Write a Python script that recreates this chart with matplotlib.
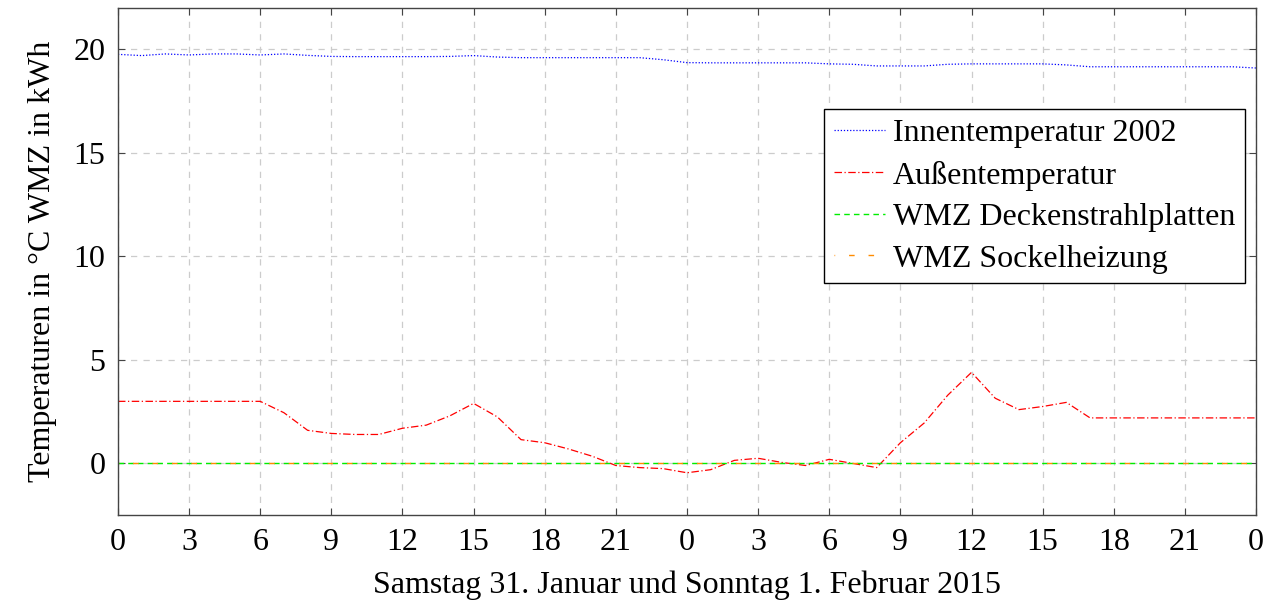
import matplotlib.pyplot as plt
import numpy as np

plt.rcParams['font.family'] = ['Liberation Serif', 'DejaVu Serif']

hours = np.arange(0, 49)

# Innentemperatur 2002 (hourly)
innen = [19.76, 19.70, 19.78, 19.73, 19.78, 19.78, 19.73, 19.78, 19.71, 19.66,
         19.65, 19.65, 19.65, 19.65, 19.66, 19.70, 19.63, 19.60, 19.60, 19.60,
         19.60, 19.60, 19.60, 19.50, 19.36, 19.35, 19.35, 19.35, 19.35, 19.35,
         19.30, 19.28, 19.20, 19.20, 19.20, 19.28, 19.30, 19.30, 19.30, 19.30,
         19.25, 19.16, 19.16, 19.16, 19.16, 19.16, 19.16, 19.16, 19.10]

# Aussentemperatur (hourly)
aussen = [3.0, 3.0, 3.0, 3.0, 3.0, 3.0, 3.0, 2.45, 1.6, 1.45,
          1.4, 1.4, 1.7, 1.85, 2.3, 2.9, 2.25, 1.15, 1.0, 0.7,
          0.35, -0.1, -0.2, -0.25, -0.45, -0.3, 0.15, 0.25, 0.05, -0.1,
          0.2, 0.0, -0.2, 1.0, 1.95, 3.3, 4.4, 3.15, 2.6, 2.75,
          2.95, 2.2, 2.2, 2.2, 2.2, 2.2, 2.2, 2.2, 2.2]

wmz_decke = [0.0] * 49
wmz_sockel = [0.0] * 49

xtick_vals = np.arange(0, 49, 3)
xtick_labels = ['0', '3', '6', '9', '12', '15', '18', '21',
                '0', '3', '6', '9', '12', '15', '18', '21', '0']

FS = 23

fig = plt.figure(figsize=(12.74, 6.04), dpi=100)
ax = fig.add_axes([0.0926, 0.147, 0.8933, 0.8398])

ax.plot(hours, innen, color='blue', linestyle=(0, (1, 1.5)), lw=0.9,
        label='Innentemperatur 2002')
ax.plot(hours, aussen, color='red', linestyle=(0, (6, 2, 1, 2)), lw=0.9,
        label='Außentemperatur')
ax.plot(hours, wmz_decke, color='#00ee00', linestyle=(0, (4, 3)), lw=1.0,
        label='WMZ Deckenstrahlplatten')
ax.plot(hours, wmz_sockel, color='#ff8c00', linestyle=(3.5, (4, 10)), lw=1.0,
        label='WMZ Sockelheizung')

ax.set_xlim(0, 48)
ax.set_ylim(-2.5, 22)
ax.set_xticks(xtick_vals)
ax.set_xticklabels(xtick_labels)
ax.set_yticks([0, 5, 10, 15, 20])

ax.grid(True, color='#cccccc', linestyle=(0, (5, 5)), lw=0.9)
ax.tick_params(direction='in', top=True, right=True, labelsize=FS, length=5,
               pad=9, color='#444444')
for s in ax.spines.values():
    s.set_color('#444444')
    s.set_linewidth(1.0)

ax.set_ylabel('Temperaturen in °C WMZ in kWh', fontsize=FS, labelpad=12)
ax.set_xlabel('Samstag 31. Januar und Sonntag 1. Februar 2015', fontsize=FS,
              labelpad=10)

leg = ax.legend(loc='upper right', bbox_to_anchor=(0.99, 0.8), fontsize=FS,
                fancybox=False, framealpha=1, edgecolor='black',
                handlelength=1.6, handletextpad=0.25, borderpad=0.3,
                labelspacing=0.38, borderaxespad=0)
leg.get_frame().set_linewidth(1.0)

fig.savefig('out.png', dpi=100)
